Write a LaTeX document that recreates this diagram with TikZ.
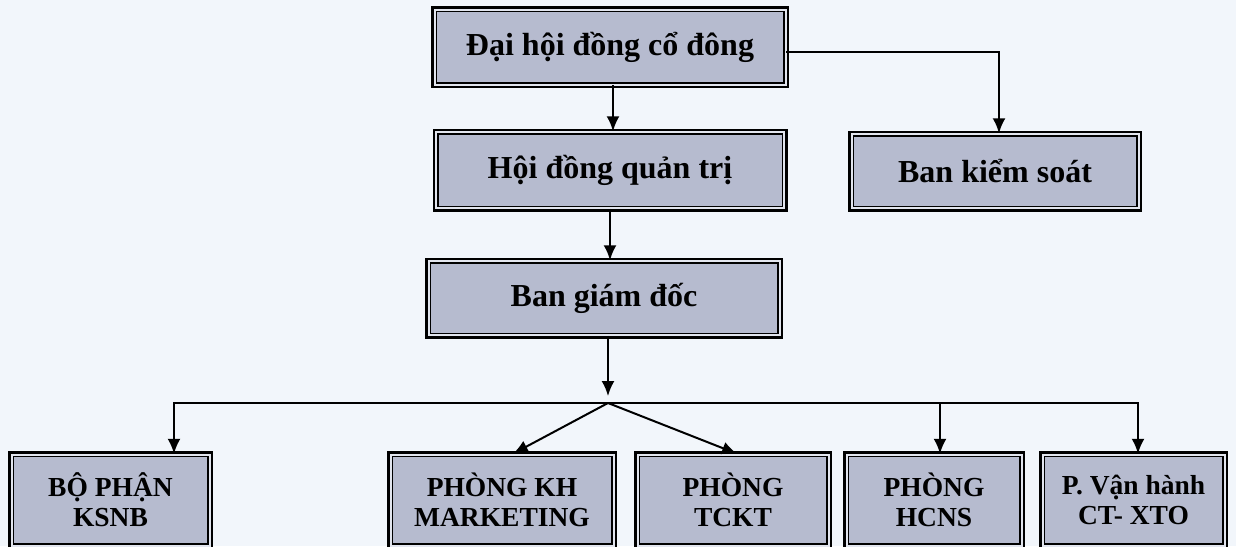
\documentclass[tikz,border=0pt]{standalone}
\usepackage{fontspec}
\setmainfont{Liberation Serif}
\usetikzlibrary{arrows.meta}
\definecolor{boxfill}{RGB}{182,187,207}
\definecolor{gapfill}{RGB}{226,229,238}
\definecolor{paper}{RGB}{242,246,251}

\begin{document}
\begin{tikzpicture}[x=1pt, y=-1pt,
    unit/.style={preaction={draw=black, line width=7pt}, draw=black, line width=1.5pt,
        double=gapfill, double distance=2pt, fill=boxfill, inner sep=0pt, align=center,
        font=\bfseries\fontsize{32}{34}\selectfont},
    small/.style={unit, minimum height=91pt, font=\bfseries\fontsize{27.5}{30}\selectfont},
    link/.style={line width=2pt},
    arr/.style={link, -{Latex[length=15pt, width=13pt]}}]
    \useasboundingbox (0, 0) rectangle (1236, 546);
    \fill[paper] (0, 0) rectangle (1236, 546);

    \node[unit, minimum width=351pt, minimum height=75pt] (dhdcd) at (610, 47) {Đại hội đồng cổ đông};
    \node[unit, minimum width=348pt, minimum height=76pt] (hdqt) at (610, 170) {Hội đồng quản trị};
    \node[unit, minimum width=287pt, minimum height=74pt] (bks) at (995, 171) {Ban kiểm soát};
    \node[unit, minimum width=351pt, minimum height=74pt] (bgd) at (604, 298) {Ban giám đốc};

    \node[small, minimum width=198pt] (ksnb) at (110.5, 500) {BỘ PHẬN\\KSNB};
    \node[small, minimum width=223pt] (mkt) at (502, 500) {PHÒNG KH\\MARKETING};
    \node[small, minimum width=191pt] (tckt) at (733, 500) {PHÒNG\\TCKT};
    \node[small, minimum width=175pt] (hcns) at (934, 500) {PHÒNG\\HCNS};
    \node[small, minimum width=182pt] (pvh) at (1133.5, 500) {P. Vận hành\\CT- XTO};

    \coordinate (hub) at (608, 403);

    \draw[arr] ([xshift=3pt]dhdcd.south) -- ([xshift=3pt]dhdcd.south |- hdqt.north);
    \draw[arr] ([yshift=-5pt]dhdcd.east) -| ([xshift=4pt]bks.north);
    \draw[arr] (hdqt.south) -- (hdqt.south |- bgd.north);
    \draw[arr, shorten >=7pt] (hub |- bgd.south) -- (hub);
    \draw[arr] (hub) -| ([xshift=63.5pt]ksnb.north);
    \draw[arr] (hub) -| ([xshift=4.5pt]pvh.north);
    \draw[arr] (hub) -- ([xshift=11pt]mkt.north);
    \draw[arr] (hub) -- ([xshift=4pt]tckt.north);
    \draw[arr] ([xshift=6pt]hcns.north |- hub) -- ([xshift=6pt]hcns.north);
\end{tikzpicture}
\end{document}
